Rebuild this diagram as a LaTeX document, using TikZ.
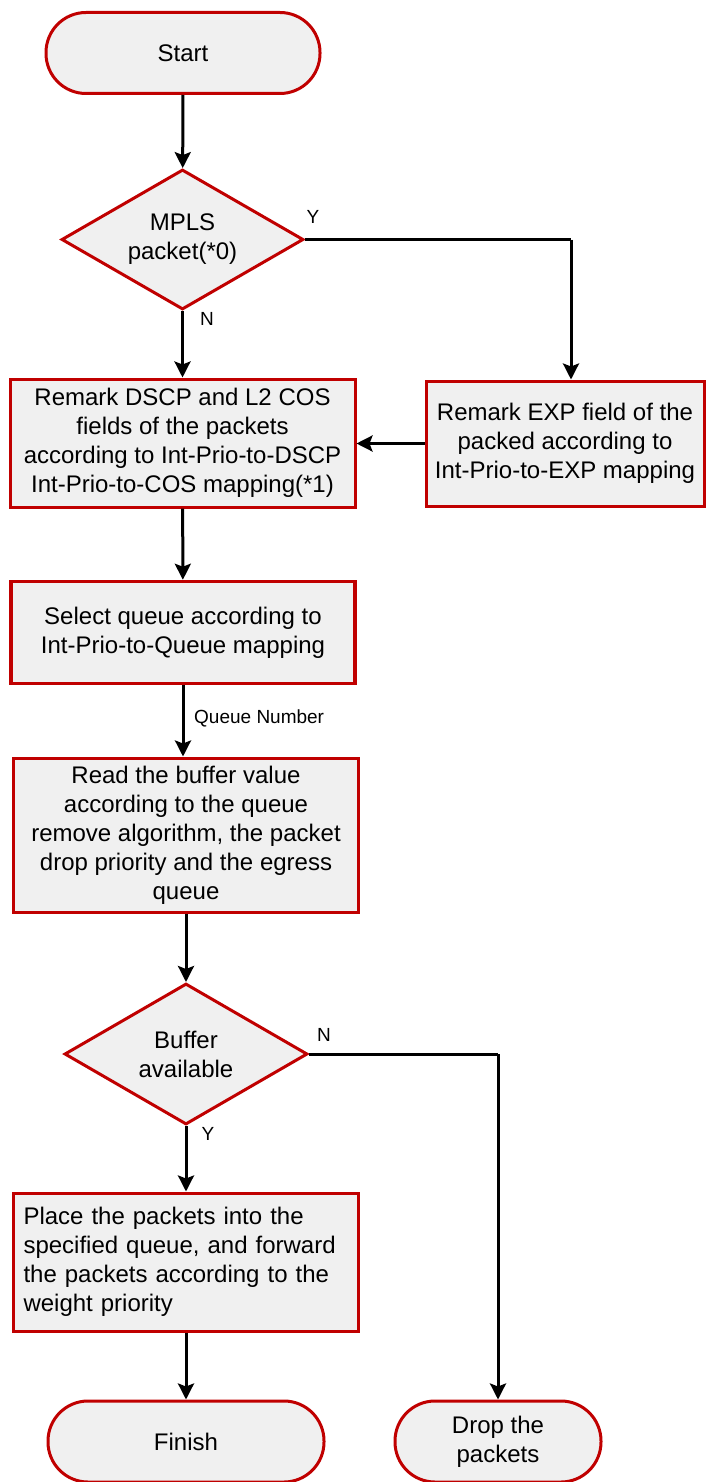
\documentclass[tikz,border=0pt]{standalone}
\usepackage{fontspec}
\setmainfont{Liberation Sans}
\usetikzlibrary{shapes.geometric,arrows.meta}
\definecolor{boxred}{HTML}{C00000}
\definecolor{boxfill}{HTML}{F0F0F0}
\begin{document}
\begin{tikzpicture}[x=1pt, y=-1pt,
    every node/.style={font=\fontsize{24}{29}\selectfont},
    term/.style={draw=boxred, fill=boxfill, line width=3pt, rounded corners=40pt, align=center, minimum height=81pt},
    proc/.style={draw=boxred, fill=boxfill, line width=3pt, align=center, minimum width=345pt},
    cond/.style={draw=boxred, fill=boxfill, line width=3pt, diamond, aspect=1.75, inner sep=0pt, align=center},
    lbl/.style={font=\fontsize{19}{22}\selectfont, inner sep=0pt},
    flow/.style={line width=3pt, -{Stealth[length=16pt, width=16pt, inset=3pt]}},
    line/.style={line width=3pt}]
  \useasboundingbox (0,0) rectangle (705,1482);
  \node[term, minimum width=274pt] (start) at (183,53) {Start};
  \node[cond, minimum width=242pt, minimum height=140pt] (mpls) at (182.5,239.5) {MPLS\\packet(*0)};
  \node[proc, minimum height=128pt] (remark) at (182.5,443) {Remark DSCP and L2 COS\\fields of the packets\\according to Int-Prio-to-DSCP\\Int-Prio-to-COS mapping(*1)};
  \node[proc, minimum width=278pt, minimum height=125pt] (exp) at (565,443.5) {Remark EXP field of the\\packed according to\\Int-Prio-to-EXP mapping};
  \node[proc, line width=3.5pt, minimum width=344pt, minimum height=102pt] (select) at (183,632.5) {Select queue according to\\Int-Prio-to-Queue mapping};
  \node[proc, minimum height=154pt] (readbuf) at (186,835) {Read the buffer value\\according to the queue\\remove algorithm, the packet\\drop priority and the egress\\queue};
  \node[cond, minimum width=243pt, minimum height=141pt] (buffer) at (186,1054) {Buffer\\available};
  \node[proc, minimum height=138pt, text width=325pt, align=left] (place) at (186,1262) {Place the packets into the\\specified queue, and forward\\the packets according to the\\weight priority};
  \node[term, minimum width=276pt] (finish) at (186,1441.5) {Finish};
  \node[term, minimum width=206pt] (drop) at (498,1441.5) {Drop the\\packets};

  \node[lbl] (ympls) at (313,217) {Y};
  \node[lbl] (nmpls) at (207,319) {N};
  \node[lbl, anchor=west] (qnum) at (194,718) {Queue Number};
  \node[lbl] (nbuf) at (324,1035) {N};
  \node[lbl] (ybuf) at (208,1134) {Y};

  \coordinate (yturn) at (571,239.5);
  \coordinate (nturn) at (498,1054);
  \draw[flow] (start) -- (mpls);
  \draw[flow] (mpls) -- (remark);
  \draw[line] (mpls.east) -- (yturn);
  \draw[flow] (yturn) -- (yturn |- exp.north);
  \draw[flow] (exp.west) -- (exp.west -| remark.east);
  \draw[flow] (remark) -- (select);
  \draw[flow] (select.south) -- (select.south |- readbuf.north);
  \draw[flow] (readbuf) -- (buffer);
  \draw[flow] (buffer) -- (place);
  \draw[flow] (place) -- (finish);
  \draw[line] (buffer.east) -- (nturn);
  \draw[flow] (nturn) -- (drop);
\end{tikzpicture}
\end{document}
